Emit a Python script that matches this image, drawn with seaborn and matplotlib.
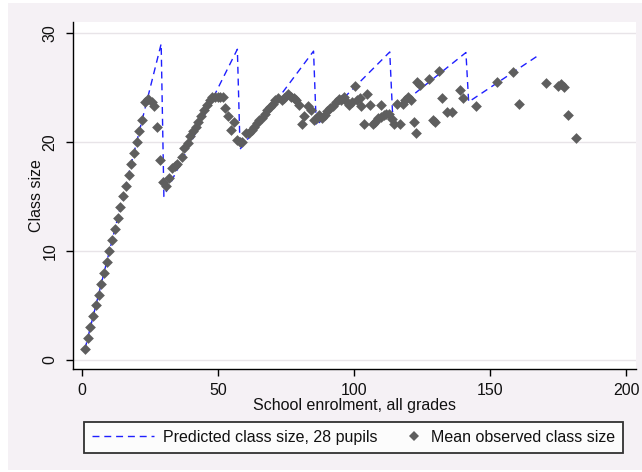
import matplotlib
matplotlib.use("Agg")
import matplotlib.pyplot as plt
import seaborn as sns
from matplotlib.lines import Line2D
from matplotlib.patches import Rectangle
from matplotlib.legend_handler import HandlerLine2D

# predicted class size (28 pupil rule), vertices of the saw-tooth
pred_enrol = [1, 29, 30, 57, 58, 85, 86, 113, 114, 141, 142, 168]
pred_size = [1, 29, 15, 28.5, 19.33, 28.33, 21.5, 28.25, 22.8, 28.2, 23.67, 28]

# mean observed class size by enrolment
obs_enrol = [1, 2, 3, 4, 5, 6, 7, 8, 9, 10, 11, 12, 13, 14, 15, 16, 17, 18, 19, 20, 21, 22,
             23, 24, 25.5, 26.5, 27.5, 28.4, 29.6, 30.7, 31.9, 33, 34, 35, 36.5, 37.5,
             38.7, 39.7, 40.8, 41.7, 42.7, 43.8, 44.7, 45.7, 46.8, 47.7, 48.8, 49.8, 50.7,
             51.8, 52.5, 53.6, 54.5, 55.8, 56.7, 57.9, 58.8, 60.0, 61.1, 62.2, 63.1, 64.1,
             65.0, 66.1, 67.1, 68.0, 69.1, 70.1, 71.0, 72.1, 73.3, 74.3, 75.5, 76.6, 77.7,
             78.6, 79.6, 80.7, 81.6, 83.1, 84.1, 85.0, 86.1, 87.1, 88.2, 89.1, 90.1, 91.2,
             92.1, 93.2, 94.2, 95.1, 96.2, 97.2, 98.1, 99.2, 100.4, 101.1, 102.2, 102.6,
             103.5, 104.6, 105.6, 106.7, 107.7, 108.7, 109.7, 109.7, 110.8, 111.7, 112.7,
             113.8, 114.7, 115.7, 116.8, 117.7, 118.7, 119.8, 120.7, 121.8, 122.8, 123.2,
             124.3, 127.3, 128.8, 129.7, 131.2, 132.3, 134.2, 135.7, 138.8, 139.8, 144.8,
             152.3, 158.3, 160.4, 170.4, 174.9, 175.9, 176.9, 178.4, 181.5]
obs_size = [1, 2, 3, 4, 5, 6, 7, 8, 9, 10, 11, 12, 13, 14, 15, 16, 17, 18, 19, 20, 21, 22,
            23.7, 23.9, 23.7, 23.3, 21.4, 18.3, 16.3, 16.0, 16.7, 17.6, 17.8, 18.0, 18.6, 19.4,
            19.9, 20.5, 21.0, 21.4, 21.8, 22.4, 22.9, 23.4, 23.8, 24.1, 24.1, 24.1, 24.1,
            24.1, 23.1, 22.4, 21.1, 21.8, 20.2, 20.0, 20.0, 20.8, 20.8, 21.1, 21.4, 21.7,
            22.0, 22.2, 22.6, 22.9, 23.2, 23.5, 23.8, 24.0, 23.8, 24.0, 24.4, 24.1, 24.0,
            23.8, 23.4, 21.6, 22.4, 23.3, 22.9, 22.0, 22.2, 22.5, 22.2, 22.5, 22.8, 23.1,
            23.3, 23.7, 23.9, 23.8, 24.1, 23.7, 23.4, 23.7, 25.1, 23.8, 24.0, 23.3,
            21.6, 24.4, 23.4, 21.6, 21.8, 22.2, 23.4, 22.3, 22.5, 22.6, 22.6,
            22.1, 21.6, 23.5, 21.6, 23.5, 23.8, 24.1, 23.8, 21.8, 20.8, 25.5,
            25.2, 25.8, 22.0, 21.8, 26.5, 24.0, 22.7, 22.7, 24.8, 24.0, 23.3,
            25.5, 26.4, 23.5, 25.4, 25.1, 25.3, 25.0, 22.5, 20.4]

x_ticks = [0, 50, 100, 150, 200]
y_ticks = [0, 10, 20, 30]

BLUE = "#1f1fff"
GREY = "#5e5e5e"
BG = "#f5f1f5"
TXT = "#111111"
DASH = (0, (5, 3.5))


class WideLine(HandlerLine2D):
    # longer handle box for the dashed line entry only
    def legend_artist(self, legend, orig_handle, fontsize, handlebox):
        handlebox.width = 3.9 * fontsize
        return super().legend_artist(legend, orig_handle, fontsize, handlebox)


sns.set_style("white")
plt.rcParams["font.family"] = ["Liberation Sans Narrow", "Liberation Sans", "DejaVu Sans"]

fig = plt.figure(figsize=(6.42, 4.72), dpi=100, facecolor="white")
fig.patches.append(Rectangle((8 / 642, 2 / 472), 1, 467 / 472, transform=fig.transFigure,
                             facecolor=BG, edgecolor="none", zorder=-10))
ax = fig.add_axes([73 / 642, 1 - 369 / 472, 563 / 642, 347 / 472])
ax.set_facecolor("white")

sns.lineplot(x=pred_enrol, y=pred_size, ax=ax, sort=False, estimator=None,
             color=BLUE, linewidth=1.0, ls=DASH, legend=False, zorder=2)
sns.scatterplot(x=obs_enrol, y=obs_size, ax=ax, marker="D", s=30, color=GREY,
                linewidth=0, legend=False, zorder=3)

ax.set_xlim(-3.4, 203.5)
ax.set_ylim(-0.83, 31.0)
ax.set_xticks(x_ticks)
ax.set_yticks(y_ticks)
ax.yaxis.grid(True, color="#e8e4e8", linewidth=1.0)
ax.set_axisbelow(True)
for side in ["top", "right"]:
    ax.spines[side].set_visible(False)
for side in ["left", "bottom"]:
    ax.spines[side].set_color("black")
    ax.spines[side].set_linewidth(1.0)
ax.tick_params(axis="both", direction="out", length=5, width=1.0, color="black",
               labelsize=11.5, labelcolor=TXT, bottom=True, left=True)
ax.tick_params(axis="x", pad=5)
ax.tick_params(axis="y", pad=6)
plt.setp(ax.get_yticklabels(), rotation=90, va="center")

ax.set_xlabel("School enrolment, all grades", fontsize=11.5, labelpad=0, color=TXT)
ax.set_ylabel("Class size", fontsize=11.5, labelpad=-1, color=TXT)

h_pred = Line2D([], [], color=BLUE, linewidth=1.0, ls=DASH)
h_obs = Line2D([], [], color=GREY, marker="D", markersize=5, markeredgewidth=0, ls="none")
leg = fig.legend([h_pred, h_obs],
                 ["Predicted class size, 28 pupils", "Mean observed class size"],
                 handler_map={h_pred: WideLine()},
                 loc="center", bbox_to_anchor=(353.5 / 642, 1 - 437.5 / 472), ncol=2,
                 fontsize=11.5, frameon=True, fancybox=False, handlelength=1.0,
                 handletextpad=0.55, columnspacing=1.8, borderpad=0.5)
leg.get_frame().set_edgecolor("black")
leg.get_frame().set_linewidth(1.3)
leg.get_frame().set_facecolor("white")
for t in leg.get_texts():
    t.set_color(TXT)

fig.savefig("out.png", dpi=100, facecolor=fig.get_facecolor())
